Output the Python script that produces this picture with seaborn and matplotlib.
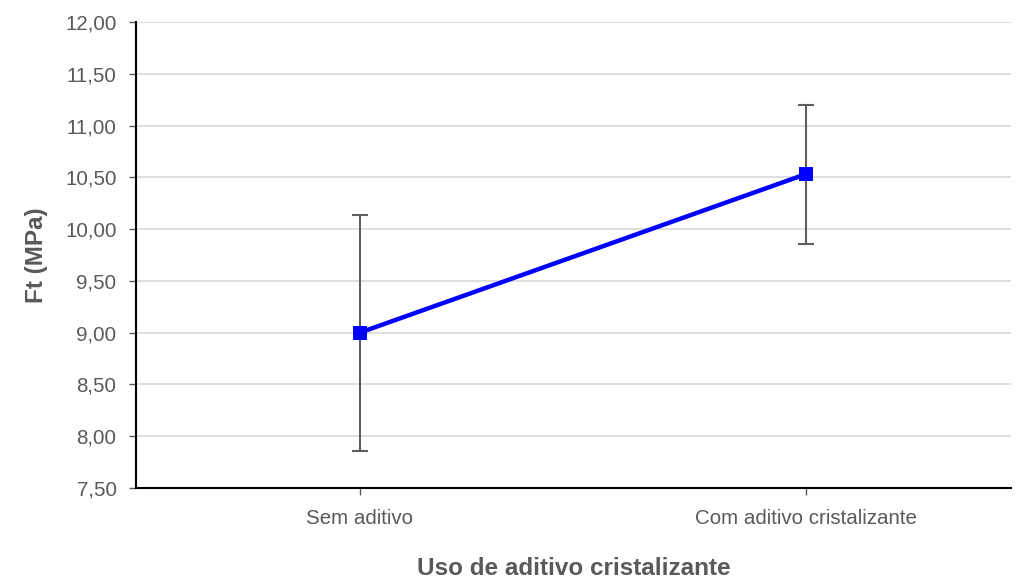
import matplotlib
matplotlib.use("Agg")
import matplotlib.pyplot as plt
import seaborn as sns
import pandas as pd
from matplotlib.ticker import FuncFormatter, MultipleLocator

categories = ["Sem aditivo", "Com aditivo cristalizante"]
ft_mean = [9.00, 10.53]
ft_err = [1.14, 0.67]

sns.set_theme(style="white")
plt.rcParams["font.family"] = ["Liberation Sans", "DejaVu Sans"]

text_color = "#595959"

df = pd.DataFrame({"pos": range(len(categories)), "categoria": categories, "ft": ft_mean})

fig = plt.figure(figsize=(10.21, 5.79), dpi=100)
ax = fig.add_axes([0.1332, 0.1572, 0.8567, 0.8048])

ax.errorbar(df["pos"], df["ft"], yerr=ft_err, fmt="none", ecolor="#5f5f5f",
            elinewidth=1.5, capsize=6, capthick=1.5, zorder=2)
sns.lineplot(data=df, x="pos", y="ft", ax=ax, color="#0000ff", linewidth=3.2,
             marker="s", markersize=10, markeredgewidth=0, zorder=3)

ax.set_ylim(7.5, 12.0)
ax.set_xlim(-0.502, 1.46)
ax.yaxis.set_major_locator(MultipleLocator(0.5))
ax.yaxis.set_major_formatter(FuncFormatter(lambda v, _: f"{v:.2f}".replace(".", ",")))
ax.set_xticks(df["pos"])
ax.set_xticklabels(categories)

ax.grid(axis="y", color="#d9d9d9", linewidth=1.2)
ax.set_axisbelow(True)
for side in ("top", "right"):
    ax.spines[side].set_visible(False)
for side in ("left", "bottom"):
    ax.spines[side].set_color("black")
    ax.spines[side].set_linewidth(1.5)

ax.tick_params(axis="both", which="major", direction="out", length=5, width=1,
               bottom=True, left=True,
               color=text_color, labelcolor=text_color, labelsize=14.8)
ax.tick_params(axis="y", pad=9)
ax.tick_params(axis="x", pad=10)

ax.set_xlabel("Uso de aditivo cristalizante", fontsize=17.5, fontweight="bold",
              color=text_color, labelpad=21)
ax.set_ylabel("Ft (MPa)", fontsize=17.5, fontweight="bold", color=text_color, labelpad=12)

fig.savefig("out.png", dpi=100)
